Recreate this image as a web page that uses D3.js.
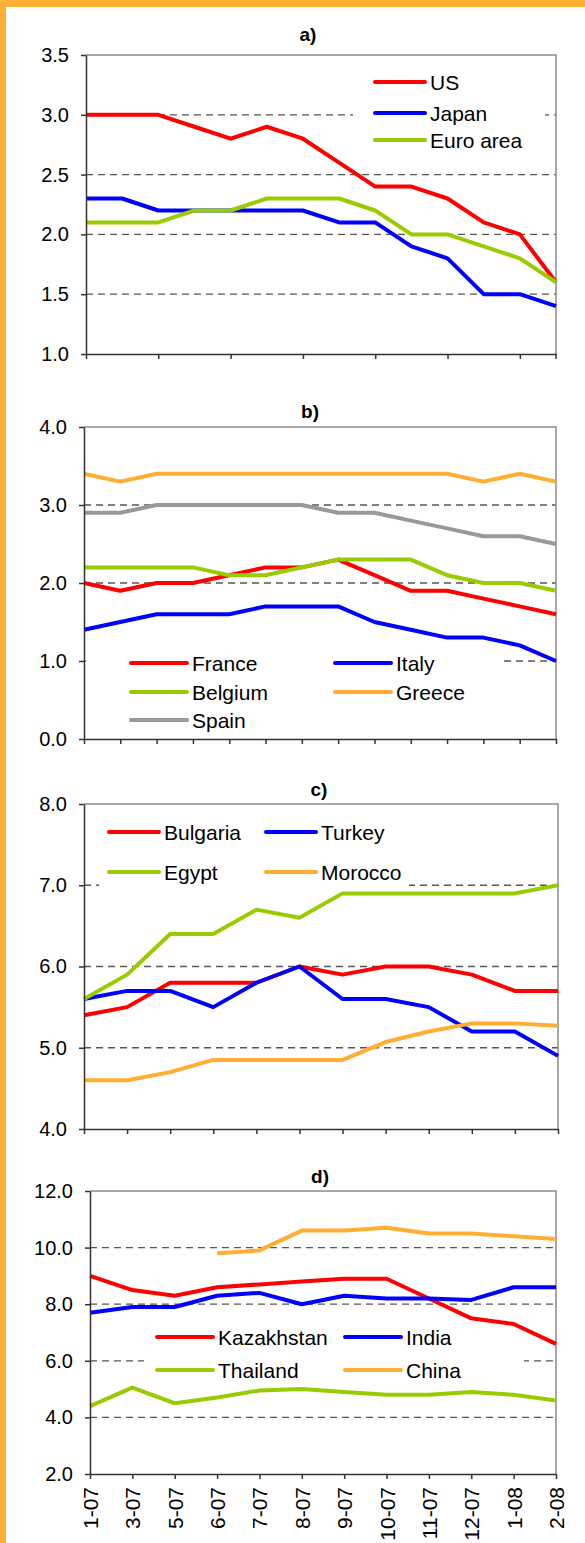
<!DOCTYPE html>
<html>
<head>
<meta charset="utf-8">
<script src="https://cdn.jsdelivr.net/npm/d3@7"></script>
<style>
body { margin: 0; background: #fff; }
svg { display: block; font-family: "Liberation Sans", Arial, sans-serif; }
.grid line { stroke: #555; stroke-width: 1.3; stroke-dasharray: 7,5; }
.axis path, .axis line { stroke: #333; stroke-width: 1.5; }
.axis text { font-family: "Liberation Sans", Arial, sans-serif; fill: #000; }
</style>
</head>
<body>
<div id="chart"></div>
<script>
// monthly categories (panels a, b) and the reduced set (panels c, d)
var monthsAll = ["1-07","2-07","3-07","4-07","5-07","6-07","7-07","8-07","9-07","10-07","11-07","12-07","1-08","2-08"];
var monthsSel = ["1-07","3-07","5-07","6-07","7-07","8-07","9-07","10-07","11-07","12-07","1-08","2-08"];

// a)
var us       = [3.0,3.0,3.0,2.9,2.8,2.9,2.8,2.6,2.4,2.4,2.3,2.1,2.0,1.6];
var japan    = [2.3,2.3,2.2,2.2,2.2,2.2,2.2,2.1,2.1,1.9,1.8,1.5,1.5,1.4];
var euroArea = [2.1,2.1,2.1,2.2,2.2,2.3,2.3,2.3,2.2,2.0,2.0,1.9,1.8,1.6];

// b)
var france  = [2.0,1.9,2.0,2.0,2.1,2.2,2.2,2.3,2.1,1.9,1.9,1.8,1.7,1.6];
var italy   = [1.4,1.5,1.6,1.6,1.6,1.7,1.7,1.7,1.5,1.4,1.3,1.3,1.2,1.0];
var belgium = [2.2,2.2,2.2,2.2,2.1,2.1,2.2,2.3,2.3,2.3,2.1,2.0,2.0,1.9];
var greece  = [3.4,3.3,3.4,3.4,3.4,3.4,3.4,3.4,3.4,3.4,3.4,3.3,3.4,3.3];
var spain   = [2.9,2.9,3.0,3.0,3.0,3.0,3.0,2.9,2.9,2.8,2.7,2.6,2.6,2.5];

// c)
var bulgaria = [5.4,5.5,5.8,5.8,5.8,6.0,5.9,6.0,6.0,5.9,5.7,5.7];
var turkey   = [5.6,5.7,5.7,5.5,5.8,6.0,5.6,5.6,5.5,5.2,5.2,4.9];
var egypt    = [5.6,5.9,6.4,6.4,6.7,6.6,6.9,6.9,6.9,6.9,6.9,7.0];
var morocco  = [4.6,4.6,4.7,4.85,4.85,4.85,4.85,5.07,5.2,5.3,5.3,5.27];

// d)
var kazakhstan = [9.0,8.5,8.3,8.6,8.7,8.8,8.9,8.9,8.2,7.5,7.3,6.6];
var india      = [7.7,7.9,7.9,8.3,8.4,8.0,8.3,8.2,8.2,8.15,8.6,8.6];
var thailand   = [4.4,5.05,4.5,4.7,4.95,5.0,4.9,4.8,4.8,4.9,4.8,4.6];
var china      = [null,null,null,9.8,9.9,10.6,10.6,10.7,10.5,10.5,10.4,10.3];

var RED = "#ff0000", BLUE = "#0000ff", GREEN = "#99cc00", ORANGE = "#ffad33", GREY = "#999999";

var W = 585, H = 1543;

var svg = d3.select("#chart").append("svg")
    .attr("width", W)
    .attr("height", H);

// orange frame (top and left)
svg.append("rect").attr("x", 0).attr("y", 0).attr("width", W).attr("height", 7).attr("fill", "#fdb033");
svg.append("rect").attr("x", 0).attr("y", 0).attr("width", 6).attr("height", H).attr("fill", "#fdb033");

function panel(o) {
  var x = d3.scalePoint().domain(o.cats).range([o.x0, o.x1]);
  var y = d3.scaleLinear().domain(o.dom).range([o.yb, o.yt]);
  var g = svg.append("g");

  g.append("text")
     .attr("x", o.tx)
     .attr("y", o.ty)
     .attr("text-anchor", "middle")
     .attr("font-weight", "bold")
     .attr("font-size", 19)
     .text(o.title);

  g.append("g").attr("class", "grid")
     .selectAll("line")
     .data(o.grid)
     .enter()
     .append("line")
     .attr("x1", o.x0).attr("x2", o.x1)
     .attr("y1", d => y(d)).attr("y2", d => y(d));

  // plot frame, top and right
  g.append("path")
     .attr("d", "M" + o.x0 + "," + y(o.dom[1]) + "H" + o.x1 + "V" + y(o.dom[0]))
     .attr("fill", "none")
     .attr("stroke", "#8a8a8a")
     .attr("stroke-width", 1.5);

  // legend background hides the grid
  g.append("rect")
     .attr("x", o.lbg[0]).attr("y", o.lbg[1])
     .attr("width", o.lbg[2]).attr("height", o.lbg[3])
     .attr("fill", "#fff");

  var line = d3.line()
     .defined(d => d[1] != null)
     .x(d => x(d[0]))
     .y(d => y(d[1]));

  o.series.forEach(s => {
    g.append("path")
       .datum(o.cats.map((c, i) => [c, s.values[i]]))
       .attr("d", line)
       .attr("fill", "none")
       .attr("stroke", s.color)
       .attr("stroke-width", 4)
       .attr("stroke-linejoin", "round");
  });

  var yAxis = d3.axisLeft(y)
     .tickValues(o.yticks)
     .tickSize(5)
     .tickSizeOuter(0)
     .tickPadding(12)
     .tickFormat(d3.format(".1f"));
  g.append("g")
     .attr("class", "axis")
     .attr("transform", "translate(" + o.x0 + ",0)")
     .call(yAxis)
     .attr("font-size", 20);

  var xAxis = d3.axisBottom(x)
     .tickValues(o.xticks)
     .tickSize(5)
     .tickSizeOuter(0)
     .tickFormat(o.xlabels ? null : "");
  var xg = g.append("g")
     .attr("class", "axis")
     .attr("transform", "translate(0," + o.yb + ")")
     .call(xAxis)
     .attr("font-size", 21);
  // extend the last tick to the right end of the frame
  if (o.endTick) {
    xg.append("line").attr("x1", o.x1).attr("x2", o.x1).attr("y1", 0).attr("y2", 5);
  }
  if (o.xlabels) {
    xg.selectAll(".tick text")
       .attr("transform", "rotate(-90)")
       .attr("text-anchor", "end")
       .attr("dominant-baseline", "central")
       .attr("x", -13)
       .attr("y", 0)
       .attr("dy", null);
  }

  o.series.forEach(s => {
    g.append("line")
       .attr("x1", s.lx).attr("x2", s.lx + o.llen)
       .attr("y1", s.ly).attr("y2", s.ly)
       .attr("stroke", s.color)
       .attr("stroke-width", 4)
       .attr("stroke-linecap", "round");
    g.append("text")
       .attr("x", s.lx + o.llen + 5)
       .attr("y", s.ly)
       .attr("dominant-baseline", "central")
       .attr("font-size", 21)
       .text(s.name);
  });
}

panel({
  title: "a)", tx: 308, ty: 41,
  cats: monthsAll,
  x0: 86, x1: 556, yt: 55, yb: 354,
  dom: [1, 3.5],
  yticks: [1, 1.5, 2, 2.5, 3, 3.5],
  grid: [1.5, 2, 2.5, 3],
  xticks: monthsAll.filter((m, i) => i % 2 === 0),
  endTick: true,
  lbg: [353, 62, 192, 96],
  llen: 50,
  series: [
    { name: "US", values: us, color: RED, lx: 375, ly: 82 },
    { name: "Japan", values: japan, color: BLUE, lx: 375, ly: 113 },
    { name: "Euro area", values: euroArea, color: GREEN, lx: 375, ly: 140 }
  ]
});

panel({
  title: "b)", tx: 310, ty: 418,
  cats: monthsAll,
  x0: 84, x1: 556, yt: 427, yb: 739,
  dom: [0, 4],
  yticks: [0, 1, 2, 3, 4],
  grid: [1, 2, 3],
  xticks: monthsAll,
  lbg: [86, 648, 416, 88],
  llen: 56,
  series: [
    { name: "France", values: france, color: RED, lx: 131, ly: 663 },
    { name: "Italy", values: italy, color: BLUE, lx: 335, ly: 663 },
    { name: "Belgium", values: belgium, color: GREEN, lx: 131, ly: 692 },
    { name: "Greece", values: greece, color: ORANGE, lx: 335, ly: 692 },
    { name: "Spain", values: spain, color: GREY, lx: 131, ly: 720 }
  ]
});

panel({
  title: "c)", tx: 319, ty: 796,
  cats: monthsSel,
  x0: 84, x1: 558, yt: 804, yb: 1129,
  dom: [4, 8],
  yticks: [4, 5, 6, 7, 8],
  grid: [5, 6, 7],
  xticks: monthsSel,
  lbg: [99, 812, 310, 80],
  llen: 50,
  series: [
    { name: "Bulgaria", values: bulgaria, color: RED, lx: 109, ly: 832 },
    { name: "Turkey", values: turkey, color: BLUE, lx: 266, ly: 832 },
    { name: "Egypt", values: egypt, color: GREEN, lx: 109, ly: 872 },
    { name: "Morocco", values: morocco, color: ORANGE, lx: 266, ly: 872 }
  ]
});

panel({
  title: "d)", tx: 320, ty: 1183,
  cats: monthsSel,
  x0: 90, x1: 556, yt: 1191, yb: 1474,
  dom: [2, 12],
  yticks: [2, 4, 6, 8, 10, 12],
  grid: [4, 6, 8, 10],
  xticks: monthsSel,
  xlabels: true,
  lbg: [144, 1318, 380, 72],
  llen: 56,
  series: [
    { name: "Kazakhstan", values: kazakhstan, color: RED, lx: 157, ly: 1337 },
    { name: "India", values: india, color: BLUE, lx: 345, ly: 1337 },
    { name: "Thailand", values: thailand, color: GREEN, lx: 157, ly: 1370 },
    { name: "China", values: china, color: ORANGE, lx: 345, ly: 1370 }
  ]
});
</script>
</body>
</html>
